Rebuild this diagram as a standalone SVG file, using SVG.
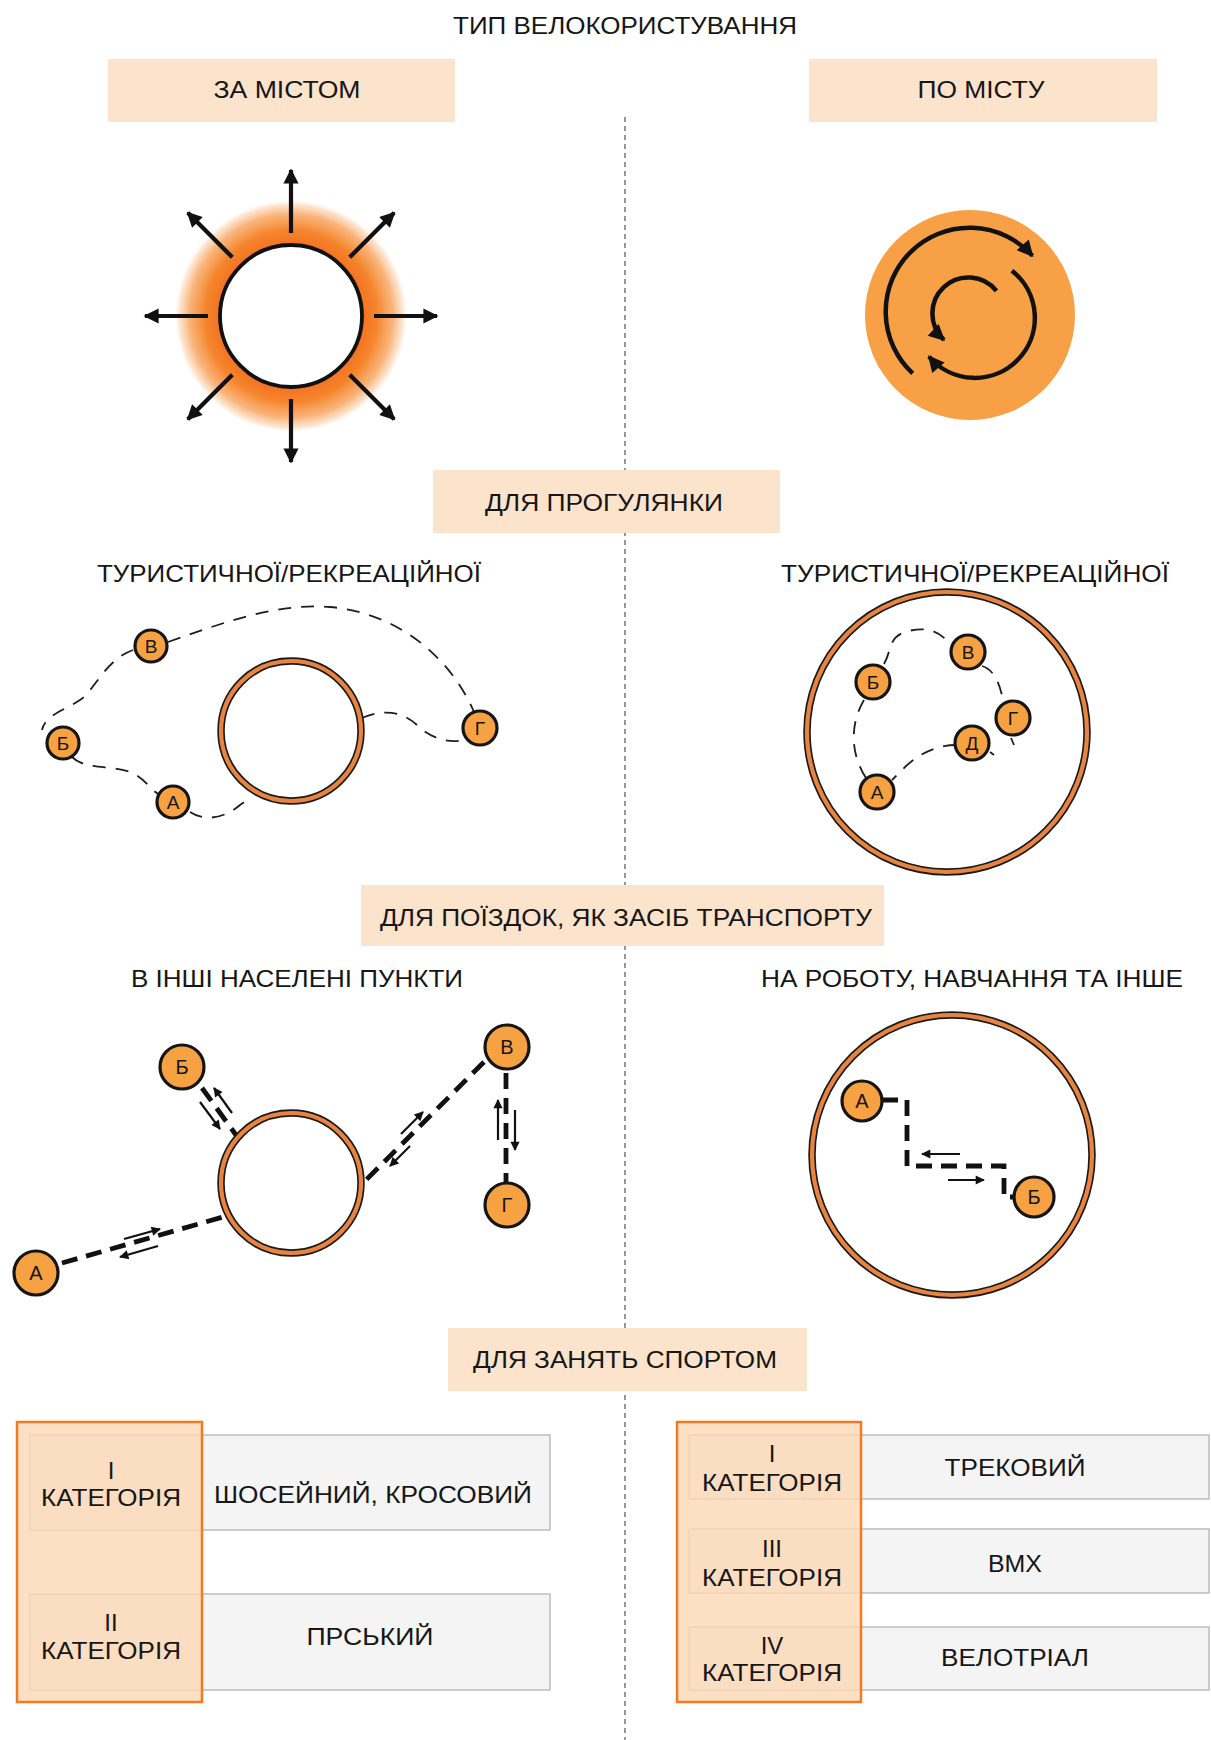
<svg xmlns="http://www.w3.org/2000/svg" width="1211" height="1740" viewBox="0 0 1211 1740">
<style>
text{font-family:"Liberation Sans",Arial,sans-serif;fill:#161616;text-anchor:middle}
.h{font-size:24px}
.nl{font-size:19px}
.nl2{font-size:20px}
.box{fill:#FCE3CB}
.node{fill:#F6A142;stroke:#151515;stroke-width:3.2}
.ringb{fill:none;stroke:#1a1a1a;stroke-width:7.5}
.ringo{fill:none;stroke:#E8843F;stroke-width:4.2}
.thin{fill:none;stroke:#1e1e1e;stroke-width:1.8;stroke-dasharray:13 10}
.thick{fill:none;stroke:#111;stroke-width:4.8;stroke-dasharray:16 9}
.sa{stroke:#111;stroke-width:2.2;fill:none}
.row{fill:#F4F4F4;stroke:#BDBDBD;stroke-width:1.5}
.cat{fill:#FCD8B6;fill-opacity:0.82;stroke:#F37A20;stroke-width:2.5}
</style>
<defs>
<marker id="ah" viewBox="0 0 10 10" refX="9" refY="5" markerWidth="4.2" markerHeight="3.6" orient="auto-start-reverse"><path d="M0,0 L10,5 L0,10 z" fill="#111"/></marker>
<marker id="sm" viewBox="0 0 10 10" refX="9" refY="5" markerWidth="5" markerHeight="4.2" orient="auto"><path d="M0,0 L10,5 L0,10 z" fill="#111"/></marker>
<radialGradient id="glow" cx="0.5" cy="0.5" r="0.5">
<stop offset="0" stop-color="#F37021"/>
<stop offset="0.6" stop-color="#F37021"/>
<stop offset="0.74" stop-color="#F5852C"/>
<stop offset="0.88" stop-color="#F8A764" stop-opacity="0.85"/>
<stop offset="0.96" stop-color="#FBCDA4" stop-opacity="0.55"/>
<stop offset="1" stop-color="#FDE3CC" stop-opacity="0"/>
</radialGradient>
</defs>
<rect width="1211" height="1740" fill="#fff"/>

<g id="divider"><line x1="625" y1="117" x2="625" y2="1740" stroke="#555" stroke-width="1.2" stroke-dasharray="5 4"/></g>

<g id="title"><text class="h" x="625" y="34" textLength="344" lengthAdjust="spacingAndGlyphs">ТИП ВЕЛОКОРИСТУВАННЯ</text></g>

<g id="za-mistom"><rect class="box" x="108" y="59" width="347" height="63"/><text class="h" x="287" y="98" textLength="147" lengthAdjust="spacingAndGlyphs">ЗА МІСТОМ</text></g>
<g id="po-mistu"><rect class="box" x="809" y="59" width="348" height="63"/><text class="h" x="981" y="98" textLength="127" lengthAdjust="spacingAndGlyphs">ПО МІСТУ</text></g>

<g id="sun">
<circle cx="291" cy="316" r="116" fill="url(#glow)"/>
<circle cx="291" cy="316" r="71" fill="#fff" stroke="#111" stroke-width="3.8"/>
<g stroke="#111" stroke-width="4.2" marker-end="url(#ah)">
<line x1="374" y1="316" x2="437" y2="316"/>
<line x1="349.7" y1="374.7" x2="394.2" y2="419.2"/>
<line x1="291" y1="399" x2="291" y2="462"/>
<line x1="232.3" y1="374.7" x2="187.8" y2="419.2"/>
<line x1="208" y1="316" x2="145" y2="316"/>
<line x1="232.3" y1="257.3" x2="187.8" y2="212.8"/>
<line x1="291" y1="233" x2="291" y2="170"/>
<line x1="349.7" y1="257.3" x2="394.2" y2="212.8"/>
</g>
</g>

<g id="circulation">
<circle cx="970" cy="315" r="105" fill="#F7A045"/>
<g fill="none" stroke="#111" stroke-width="4.5" marker-end="url(#ah)">
<path d="M912.7,373.4 A84,84 0 1 1 1032.4,255.8"/>
<path d="M1011.9,270.7 A60,60 0 1 1 929,356.6"/>
<path d="M996.4,290.8 A36,36 0 1 0 943.9,339.8"/>
</g>
</g>

<g id="progulyanka"><rect class="box" x="433" y="470" width="347" height="63"/><text class="h" x="604" y="511" textLength="238" lengthAdjust="spacingAndGlyphs">ДЛЯ ПРОГУЛЯНКИ</text></g>
<g id="tur-left"><text class="h" x="289" y="582" textLength="384" lengthAdjust="spacingAndGlyphs">ТУРИСТИЧНОЇ/РЕКРЕАЦІЙНОЇ</text></g>
<g id="tur-right"><text class="h" x="975" y="582" textLength="388" lengthAdjust="spacingAndGlyphs">ТУРИСТИЧНОЇ/РЕКРЕАЦІЙНОЇ</text></g>

<g id="connectors">
<path class="thin" d="M168,642 C230,620 280,603 330,607 C400,613 452,660 474,712"/>
<path class="thin" d="M133,650 C105,660 95,690 80,700 C65,710 45,715 42,730"/>
<path class="thin" d="M72,757 C85,770 110,765 130,772 C145,778 150,790 160,795"/>
<path class="thin" d="M190,812 C205,822 225,818 240,805 L252,797"/>
<path class="thin" d="M362,718 C385,708 405,712 420,728 C435,740 450,743 465,740"/>
<path class="thin" d="M884,664 C892,650 888,638 905,632 C925,626 940,630 950,645"/>
<path class="thin" d="M982,666 C995,670 1000,685 1003,700"/>
<path class="thin" d="M956,745 C935,745 918,755 905,767 L892,780"/>
<path class="thin" d="M864,700 C852,720 848,750 866,778"/>
<path class="thin" d="M1011,738 L1014,745" stroke-dasharray="none"/>
<path class="thin" d="M990,752 L994,755" stroke-dasharray="none"/>
<line class="thick" x1="62" y1="1263" x2="223" y2="1217"/>
<line class="thick" x1="202" y1="1088" x2="236" y2="1135"/>
<line class="thick" x1="484" y1="1062" x2="366" y2="1180"/>
<line class="thick" x1="506" y1="1073" x2="506" y2="1182"/>
<g class="sa" marker-end="url(#sm)">
<line x1="124" y1="1239" x2="160" y2="1229"/>
<line x1="158" y1="1246" x2="120" y2="1257"/>
<line x1="232" y1="1113" x2="214" y2="1088"/>
<line x1="200" y1="1102" x2="220" y2="1129"/>
<line x1="401" y1="1134" x2="423" y2="1112"/>
<line x1="410" y1="1146" x2="390" y2="1166"/>
<line x1="498" y1="1140" x2="498" y2="1100"/>
<line x1="515" y1="1110" x2="515" y2="1150"/>
</g>
<polyline class="thick" points="882,1100 907,1100 907,1166 1004,1166 1004,1197 1014,1197"/>
<g class="sa" marker-end="url(#sm)">
<line x1="960" y1="1154" x2="922" y2="1154"/>
<line x1="948" y1="1180" x2="984" y2="1180"/>
</g>
</g>

<g id="ring-left"><circle class="ringb" cx="291" cy="731" r="70"/><circle class="ringo" cx="291" cy="731" r="70"/></g>
<g id="l-v"><circle class="node" cx="151" cy="646" r="16"/><text class="nl" x="151" y="653">В</text></g>
<g id="l-b"><circle class="node" cx="63" cy="743" r="16"/><text class="nl" x="63" y="750">Б</text></g>
<g id="l-a"><circle class="node" cx="173" cy="802" r="16"/><text class="nl" x="173" y="809">А</text></g>
<g id="l-g"><circle class="node" cx="480" cy="728" r="17"/><text class="nl" x="480" y="735">Г</text></g>

<g id="ring-right"><circle class="ringb" cx="947" cy="732" r="140"/><circle class="ringo" cx="947" cy="732" r="140"/></g>
<g id="r-b"><circle class="node" cx="873" cy="682" r="17"/><text class="nl" x="873" y="689">Б</text></g>
<g id="r-v"><circle class="node" cx="968" cy="652" r="17"/><text class="nl" x="968" y="659">В</text></g>
<g id="r-g"><circle class="node" cx="1013" cy="718" r="17"/><text class="nl" x="1013" y="725">Г</text></g>
<g id="r-d"><circle class="node" cx="972" cy="743" r="17"/><text class="nl" x="972" y="750">Д</text></g>
<g id="r-a"><circle class="node" cx="877" cy="792" r="17"/><text class="nl" x="877" y="799">А</text></g>

<g id="transport"><rect class="box" x="361" y="885" width="523" height="61"/><text class="h" x="626" y="926" textLength="492" lengthAdjust="spacingAndGlyphs">ДЛЯ ПОЇЗДОК, ЯК ЗАСІБ ТРАНСПОРТУ</text></g>
<g id="inshi"><text class="h" x="297" y="987" textLength="332" lengthAdjust="spacingAndGlyphs">В ІНШІ НАСЕЛЕНІ ПУНКТИ</text></g>
<g id="robota"><text class="h" x="972" y="987" textLength="422" lengthAdjust="spacingAndGlyphs">НА РОБОТУ, НАВЧАННЯ ТА ІНШЕ</text></g>

<g id="ring-t-left"><circle class="ringb" cx="291" cy="1183" r="70"/><circle class="ringo" cx="291" cy="1183" r="70"/></g>
<g id="t-b"><circle class="node" cx="182" cy="1067" r="22"/><text class="nl2" x="182" y="1074">Б</text></g>
<g id="t-v"><circle class="node" cx="507" cy="1047" r="22"/><text class="nl2" x="507" y="1054">В</text></g>
<g id="t-g"><circle class="node" cx="507" cy="1205" r="22"/><text class="nl2" x="507" y="1212">Г</text></g>
<g id="t-a"><circle class="node" cx="36" cy="1273" r="22"/><text class="nl2" x="36" y="1280">А</text></g>

<g id="ring-t-right"><circle class="ringb" cx="952" cy="1155" r="140"/><circle class="ringo" cx="952" cy="1155" r="140"/></g>
<g id="w-a"><circle class="node" cx="862" cy="1101" r="20"/><text class="nl2" x="862" y="1108">А</text></g>
<g id="w-b"><circle class="node" cx="1034" cy="1197" r="20"/><text class="nl2" x="1034" y="1204">Б</text></g>

<g id="sport"><rect class="box" x="448" y="1328" width="359" height="63"/><text class="h" x="625" y="1368" textLength="304" lengthAdjust="spacingAndGlyphs">ДЛЯ ЗАНЯТЬ СПОРТОМ</text></g>

<g id="table-left">
<rect class="row" x="30" y="1435" width="520" height="95"/>
<rect class="row" x="30" y="1594" width="520" height="96"/>
<rect class="cat" x="17" y="1422" width="185" height="280"/>
<text class="h" x="111" y="1479">I</text>
<text class="h" x="111" y="1506" textLength="140" lengthAdjust="spacingAndGlyphs">КАТЕГОРІЯ</text>
<text class="h" x="373" y="1503" textLength="318" lengthAdjust="spacingAndGlyphs">ШОСЕЙНИЙ, КРОСОВИЙ</text>
<text class="h" x="111" y="1631">II</text>
<text class="h" x="111" y="1659" textLength="140" lengthAdjust="spacingAndGlyphs">КАТЕГОРІЯ</text>
<text class="h" x="370" y="1645" textLength="127" lengthAdjust="spacingAndGlyphs">ПРСЬКИЙ</text>
</g>

<g id="table-right">
<rect class="row" x="689" y="1435" width="520" height="64"/>
<rect class="row" x="689" y="1529" width="520" height="64"/>
<rect class="row" x="689" y="1627" width="520" height="63"/>
<rect class="cat" x="677" y="1422" width="184" height="280"/>
<text class="h" x="772" y="1462">I</text>
<text class="h" x="772" y="1491" textLength="140" lengthAdjust="spacingAndGlyphs">КАТЕГОРІЯ</text>
<text class="h" x="1015" y="1476" textLength="141" lengthAdjust="spacingAndGlyphs">ТРЕКОВИЙ</text>
<text class="h" x="772" y="1557">III</text>
<text class="h" x="772" y="1586" textLength="140" lengthAdjust="spacingAndGlyphs">КАТЕГОРІЯ</text>
<text class="h" x="1015" y="1572" textLength="54" lengthAdjust="spacingAndGlyphs">BMX</text>
<text class="h" x="772" y="1654">IV</text>
<text class="h" x="772" y="1681" textLength="140" lengthAdjust="spacingAndGlyphs">КАТЕГОРІЯ</text>
<text class="h" x="1015" y="1666" textLength="148" lengthAdjust="spacingAndGlyphs">ВЕЛОТРІАЛ</text>
</g>
</svg>
